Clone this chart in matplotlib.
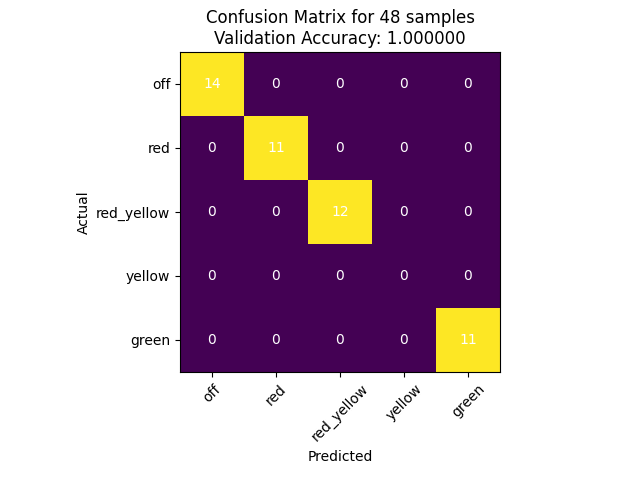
import numpy as np
import matplotlib
matplotlib.use("Agg")
import matplotlib.pyplot as plt

labels = ["off", "red", "red_yellow", "yellow", "green"]
counts = np.array([
    [14, 0, 0, 0, 0],
    [0, 11, 0, 0, 0],
    [0, 0, 12, 0, 0],
    [0, 0, 0, 0, 0],
    [0, 0, 0, 0, 11],
])
accuracy = 1.0

rs = counts.sum(axis=1, keepdims=True)
norm = np.divide(counts, rs, out=np.zeros(counts.shape, float), where=rs > 0)

fig = plt.figure(figsize=(6.4, 4.8), dpi=100)
ax = fig.add_axes([0.28125, 0.225, 0.5, 0.6667])
ax.imshow(norm, cmap="viridis", interpolation="nearest", vmin=0, vmax=1)
for i in range(len(labels)):
    for j in range(len(labels)):
        ax.text(j, i, str(counts[i, j]), ha="center", va="center", color="white")
ax.set_xticks(range(len(labels)))
ax.set_xticklabels(labels, rotation=45)
ax.set_yticks(range(len(labels)))
ax.set_yticklabels(labels)
ax.set_xlabel("Predicted")
ax.set_ylabel("Actual")
ax.set_title(f"Confusion Matrix for {counts.sum()} samples\nValidation Accuracy: {accuracy:f}")
fig.savefig("out.png")
